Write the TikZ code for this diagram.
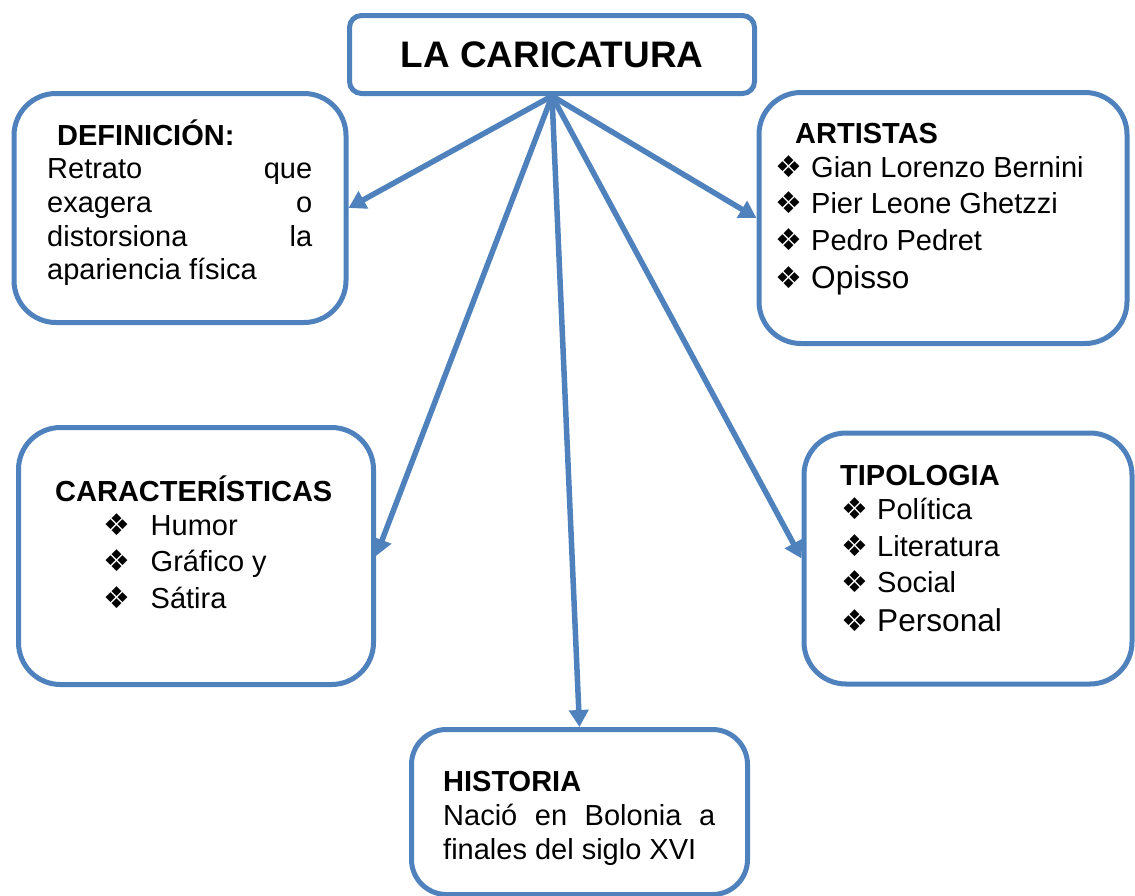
\documentclass[tikz,border=0pt]{standalone}
\usepackage{fontspec}
\setmainfont{Liberation Sans}
\newfontfamily\dejavu{DejaVu Sans}
\usetikzlibrary{arrows.meta}
\definecolor{ofblue}{HTML}{4F81BD}
\newcommand\bodyfs{\fontsize{29}{34}\selectfont}
\newcommand\largefs{\fontsize{31.6}{36}\selectfont}
\newcommand\headfs{\fontsize{29}{34}\selectfont\bfseries}
\newcommand\titlefs{\fontsize{36.9}{42}\selectfont\bfseries}
\newcommand\bul{{\dejavu\fontsize{30}{30}\selectfont ❖}}
\begin{document}
\begin{tikzpicture}[x=1pt,y=-1pt,
  box/.style={draw=ofblue,line width=5pt,rounded corners=#1,inner sep=0pt},
  conn/.style={draw=ofblue,line width=5.5pt,-{Triangle[length=17pt,width=19pt]}},
  txt/.style={anchor=base west,inner sep=0pt,font=\bodyfs},
  head/.style={anchor=base west,inner sep=0pt,font=\headfs}]
\useasboundingbox (0,0) rectangle (1135,895);
% boxes
\node[box=12, minimum width=405pt, minimum height=78pt, font=\titlefs] (title) at (552,54.5) {LA CARICATURA};
\node[box=42, minimum width=332pt, minimum height=229pt] (def) at (180,208) {};
\node[box=42, minimum width=368pt, minimum height=251pt] (art) at (943,218) {};
\node[box=42, minimum width=355pt, minimum height=257pt] (car) at (196,556) {};
\node[box=42, minimum width=328pt, minimum height=251pt] (tip) at (968,558.5) {};
\node[box=35, minimum width=336pt, minimum height=165pt] (his) at (579.5,812) {};
% connectors
\draw[conn] (title.south) -- (def.east);
\draw[conn] (title.south) -- (art.west);
\draw[conn] (title.south) -- (car.east);
\draw[conn] (title.south) -- (his.north);
\draw[conn] (title.south) -- (tip.west);
% DEFINICION
\node[head] (defh) at (57,145) {DEFINICIÓN:};
\node[txt] (def1) at (47,178) {\hbox to 265pt{Retrato\hfill que}};
\node[txt] (def2) at (47,212) {\hbox to 265pt{exagera\hfill o}};
\node[txt] (def3) at (47,246) {\hbox to 265pt{distorsiona\hfill la}};
\node[txt] (def4) at (47,279) {apariencia física};
% ARTISTAS
\node[head] (arth) at (795,143) {ARTISTAS};
\node[txt] (art1) at (775,177) {\makebox[36pt][l]{\bul}Gian Lorenzo Bernini};
\node[txt] (art2) at (775,213) {\makebox[36pt][l]{\bul}Pier Leone Ghetzzi};
\node[txt] (art3) at (775,250) {\makebox[36pt][l]{\bul}Pedro Pedret};
\node[txt] (art4) at (775,288) {\makebox[36pt][l]{\bul}\largefs Opisso};
% CARACTERISTICAS
\node[head] (carh) at (55,501) {CARACTERÍSTICAS};
\node[txt] (car1) at (103,535) {\makebox[47.5pt][l]{\bul}Humor};
\node[txt] (car2) at (103,571) {\makebox[47.5pt][l]{\bul}Gráfico y};
\node[txt] (car3) at (103,608) {\makebox[47.5pt][l]{\bul}Sátira};
% TIPOLOGIA
\node[head] (tiph) at (840,485) {TIPOLOGIA};
\node[txt] (tip1) at (841,519) {\makebox[36pt][l]{\bul}Política};
\node[txt] (tip2) at (841,556) {\makebox[36pt][l]{\bul}Literatura};
\node[txt] (tip3) at (841,592) {\makebox[36pt][l]{\bul}Social};
\node[txt] (tip4) at (841,631) {\makebox[36pt][l]{\bul}\largefs Personal};
% HISTORIA
\node[head] (hish) at (443,791) {HISTORIA};
\node[txt] (his1) at (443,825) {\hbox to 272pt{Nació\hfill en\hfill Bolonia\hfill a}};
\node[txt] (his2) at (443,859) {finales del siglo XVI};
\end{tikzpicture}
\end{document}
